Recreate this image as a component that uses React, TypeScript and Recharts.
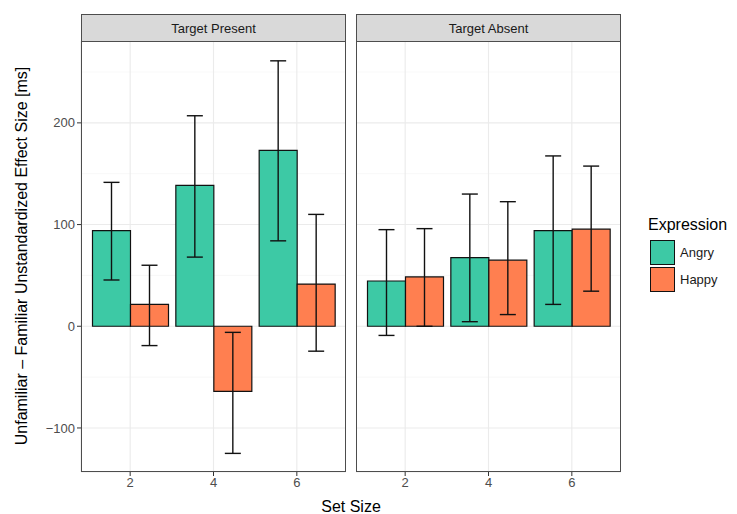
import {
  BarChart, Bar, XAxis, YAxis, CartesianGrid, ErrorBar,
} from "recharts";

/* ─── values ─── */
const setSizes = ["2", "4", "6"];

const presentAngry = [94, 138.5, 173];
const presentAngryLo = [45.5, 68, 84];
const presentAngryHi = [141.5, 207, 261];
const presentHappy = [21.5, -64, 41.5];
const presentHappyLo = [-19, -125, -24.5];
const presentHappyHi = [60, -6, 110];

const absentAngry = [44.5, 67.5, 94];
const absentAngryLo = [-9, 4.5, 21.5];
const absentAngryHi = [95, 130, 167.5];
const absentHappy = [48.5, 65, 95.5];
const absentHappyLo = [0, 11.5, 34.5];
const absentHappyHi = [96, 122.5, 157.5];

const yTicks = [-100, 0, 100, 200];
const yMinor = [-50, 50, 150, 250];
const yDomain: [number, number] = [-143.3, 280.5];

const series = [
  { key: "angry", name: "Angry", color: "#3DC9A5" },
  { key: "happy", name: "Happy", color: "#FF7F50" },
];

const panels = [
  {
    title: "Target Present",
    angry: presentAngry, angryLo: presentAngryLo, angryHi: presentAngryHi,
    happy: presentHappy, happyLo: presentHappyLo, happyHi: presentHappyHi,
  },
  {
    title: "Target Absent",
    angry: absentAngry, angryLo: absentAngryLo, angryHi: absentAngryHi,
    happy: absentHappy, happyLo: absentHappyLo, happyHi: absentHappyHi,
  },
];

type Panel = (typeof panels)[number];

function rows(p: Panel) {
  return setSizes.map((s, i) => ({
    size: s,
    angry: p.angry[i],
    angryErr: [p.angry[i] - p.angryLo[i], p.angryHi[i] - p.angry[i]],
    happy: p.happy[i],
    happyErr: [p.happy[i] - p.happyLo[i], p.happyHi[i] - p.happy[i]],
  }));
}

const FONT = '"Liberation Sans", Arial, Helvetica, sans-serif';
const PLOT_TOP = 41;
const PLOT_H = 431;
const PLOT_W = 265;
const AXIS_W = 81;
const X_AXIS_H = 30;

function FacetPanel({ panel, left, showY }: { panel: Panel; left: number; showY: boolean }) {
  const data = rows(panel);
  const yW = showY ? AXIS_W : 0;
  const plotLeft = left + yW;
  return (
    <>
      <div style={{ position: "absolute", left: left, top: PLOT_TOP }}>
        <BarChart width={yW + PLOT_W} height={PLOT_H + X_AXIS_H} data={data}
          margin={{ top: 0, right: 0, bottom: 0, left: 0 }}
          barCategoryGap={4} barGap={0}>
          {/* minor grid first, then major on top of it, both behind the bars */}
          <CartesianGrid stroke="#F4F4F4" strokeWidth={0.6} vertical={false}
            horizontalValues={yMinor} />
          <CartesianGrid stroke="#EBEBEB" strokeWidth={1.1} />
          <XAxis dataKey="size" axisLine={false} padding={{ left: 7.5, right: 7.5 }}
            tickSize={4} tickLine={{ stroke: "#333" }}
            tick={{ fontSize: 13, fill: "#4D4D4D", fontFamily: FONT }} height={X_AXIS_H} />
          <YAxis type="number" domain={yDomain} ticks={yTicks} allowDataOverflow
            hide={!showY} width={yW} axisLine={false} tickSize={4} tickLine={{ stroke: "#333" }}
            tickFormatter={(v: number) => String(v).replace("-", "\u2212")}
            tick={{ fontSize: 13, fill: "#4D4D4D", fontFamily: FONT }} />
          {series.map((s) => (
            <Bar key={s.key} dataKey={s.key} name={s.name} fill={s.color}
              stroke="#111" strokeWidth={1.2} isAnimationActive={false}>
              <ErrorBar dataKey={`${s.key}Err`} direction="y" width={8}
                stroke="#111" strokeWidth={1.4} />
            </Bar>
          ))}
        </BarChart>
      </div>
      {/* panel border */}
      <div style={{
        position: "absolute", left: plotLeft, top: PLOT_TOP, width: PLOT_W, height: PLOT_H,
        border: "1px solid #4D4D4D", boxSizing: "border-box", pointerEvents: "none",
      }} />
      {/* facet strip */}
      <div style={{
        position: "absolute", left: plotLeft, top: 14, width: PLOT_W, height: PLOT_TOP - 14 + 1,
        background: "#D9D9D9", border: "1px solid #4D4D4D", boxSizing: "border-box",
        display: "flex", alignItems: "center", justifyContent: "center",
        fontFamily: FONT, fontSize: 13, color: "#1A1A1A",
      }}>
        {panel.title}
      </div>
    </>
  );
}

export default function App() {
  return (
    <div style={{ position: "absolute", left: 0, top: 0, width: 737, height: 514, background: "#fff", fontFamily: FONT }}>
      <FacetPanel panel={panels[0]} left={0} showY />
      <FacetPanel panel={panels[1]} left={356} showY={false} />

      {/* y axis title */}
      <div style={{
        position: "absolute", left: 22, top: 256, transform: "translate(-50%, -50%) rotate(-90deg)",
        whiteSpace: "nowrap", fontSize: 16, color: "#000",
      }}>
        Unfamiliar – Familiar Unstandardized Effect Size [ms]
      </div>

      {/* x axis title */}
      <div style={{
        position: "absolute", left: 351, top: 507, transform: "translate(-50%, -50%)",
        whiteSpace: "nowrap", fontSize: 16, color: "#000",
      }}>
        Set Size
      </div>

      {/* legend */}
      <div style={{ position: "absolute", left: 648, top: 216, fontSize: 16, color: "#000" }}>
        Expression
      </div>
      {series.map((s, i) => (
        <div key={s.key} style={{ position: "absolute", left: 650, top: 240 + i * 27, display: "flex", alignItems: "center" }}>
          <div style={{ width: 25, height: 25, background: s.color, border: "1.2px solid #111", boxSizing: "border-box" }} />
          <span style={{ marginLeft: 5, fontSize: 13, color: "#1A1A1A" }}>{s.name}</span>
        </div>
      ))}
    </div>
  );
}
